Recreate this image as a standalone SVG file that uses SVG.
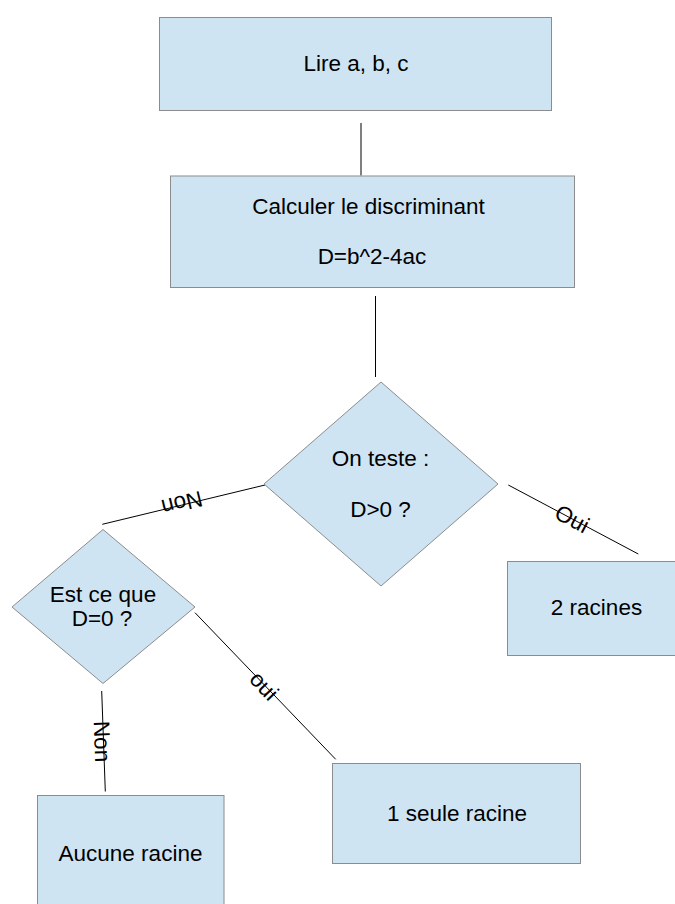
<svg xmlns="http://www.w3.org/2000/svg" width="675" height="904" viewBox="0 0 675 904">
<style>
.box{fill:#cfe4f3;stroke:#8c8c8c;stroke-width:1}
.t{font-family:"Liberation Sans",Arial,sans-serif;font-size:22.5px;fill:#000;text-anchor:middle}
.c{stroke:#000;stroke-width:1;fill:none}
.lbl{font-family:"Liberation Sans",Arial,sans-serif;font-size:22.5px;fill:#000;text-anchor:middle;dominant-baseline:central}
</style>
<rect width="675" height="904" fill="#fff"/>
<g id="connectors">
<line class="c" x1="361" y1="123" x2="361" y2="175.5"/>
<line class="c" x1="375.5" y1="296" x2="375.5" y2="377"/>
<line class="c" x1="265" y1="485" x2="102.3" y2="524.3"/>
<line class="c" x1="508.3" y1="485" x2="638.3" y2="554"/>
<line class="c" x1="195" y1="612.7" x2="335.7" y2="759.3"/>
<line class="c" x1="101.7" y1="691" x2="105.3" y2="791.5"/>
<text class="lbl" transform="translate(182,503) rotate(166.4)">Non</text>
<text class="lbl" transform="translate(572,519) rotate(28)">Oui</text>
<text class="lbl" transform="translate(264,686) rotate(46.2)">oui</text>
<text class="lbl" transform="translate(102,741.5) rotate(88)">Non</text>
</g>
<g id="lire">
<rect class="box" x="159.5" y="17.5" width="392" height="93"/>
<text class="t" x="356" y="71">Lire a, b, c</text>
</g>
<g id="calculer">
<rect class="box" x="170.5" y="176" width="404" height="111.5"/>
<text class="t" x="368.5" y="214">Calculer le discriminant</text>
<text class="t" x="372" y="264">D=b^2-4ac</text>
</g>
<g id="test1">
<polygon class="box" points="381,382 498,484 381,586 264,484"/>
<text class="t" x="380.5" y="466">On teste :</text>
<text class="t" x="380.5" y="516.5">D&gt;0 ?</text>
</g>
<g id="deux">
<rect class="box" x="507.5" y="561.5" width="170" height="94"/>
<text class="t" x="596.5" y="615">2 racines</text>
</g>
<g id="test2">
<polygon class="box" points="103,529.5 195,607 103,683.5 12,607"/>
<text class="t" x="103" y="601.5">Est ce que</text>
<text class="t" x="102" y="626">D=0 ?</text>
</g>
<g id="une">
<rect class="box" x="332.5" y="763.5" width="248" height="100"/>
<text class="t" x="457" y="820.5">1 seule racine</text>
</g>
<g id="aucune">
<rect class="box" x="37.5" y="795.5" width="186.5" height="120"/>
<text class="t" x="130.5" y="860.5">Aucune racine</text>
</g>
</svg>
